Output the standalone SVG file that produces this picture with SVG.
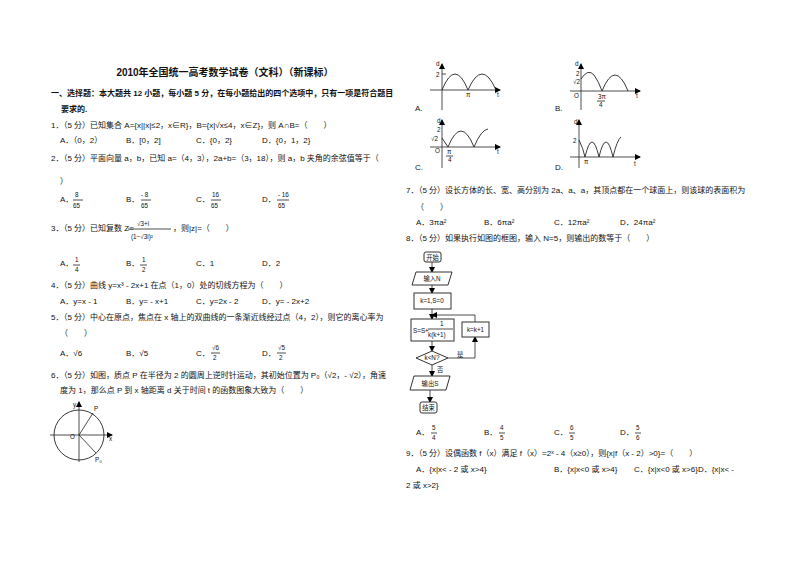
<svg xmlns="http://www.w3.org/2000/svg" width="800" height="565" viewBox="0 0 800 565">
<defs>
<marker id="ar" markerWidth="6" markerHeight="6" refX="5" refY="3" orient="auto" markerUnits="userSpaceOnUse"><path d="M0,0L6,3L0,6z" fill="#000"/></marker>
</defs>
<style>
text{font-family:"Liberation Sans","Noto Sans CJK SC",sans-serif;font-size:8px;fill:#111}
.b{font-weight:bold}
.t{font-size:10px;font-weight:bold}
.s{font-size:6.3px}
.ln{stroke:#222;stroke-width:0.8;fill:none}
.c{stroke:#222;stroke-width:0.9;fill:none}
.bx{stroke:#333;stroke-width:1;fill:#fff}
</style>
<rect width="800" height="565" fill="#fff"/>
<g id="left">
<text x="225" y="76" text-anchor="middle" class="t">2010年全国统一高考数学试卷（文科）（新课标）</text>
<text x="51" y="96" class="b">一、选择题：本大题共 12 小题，每小题 5 分，在每小题给出的四个选项中，只有一项是符合题目</text>
<text x="61" y="112" class="b">要求的.</text>
<text x="51" y="128">1．（5 分）已知集合 A={x||x|≤2，x∈R}，B={x|√x≤4，x∈Z}，则 A∩B=（　　）</text>
<text x="60" y="143">A．（0，2）</text><text x="126" y="143">B．[0，2]</text><text x="196" y="143">C．{0，2}</text><text x="262" y="143">D．{0，1，2}</text>
<text x="51" y="161">2．（5 分）平面向量 a，b，已知 a=（4，3），2a+b=（3，18），则 a，b 夹角的余弦值等于（</text>
<text x="60" y="184">）</text>
<text x="60" y="202">A．</text><text x="75" y="197" class="s">8</text><line x1="73" y1="200" x2="83" y2="200" class="ln"/><text x="73" y="208" class="s">65</text>
<text x="126" y="202">B．</text><text x="141" y="197" class="s">- 8</text><line x1="141" y1="200" x2="151" y2="200" class="ln"/><text x="141" y="208" class="s">65</text>
<text x="196" y="202">C．</text><text x="212" y="197" class="s">16</text><line x1="211" y1="200" x2="221" y2="200" class="ln"/><text x="211" y="208" class="s">65</text>
<text x="262" y="202">D．</text><text x="278" y="197" class="s">- 16</text><line x1="277" y1="200" x2="289" y2="200" class="ln"/><text x="278" y="208" class="s">65</text>
<text x="51" y="231">3．（5 分）已知复数 Z=</text><text x="137" y="226" class="s">√3+i</text><line x1="128" y1="229" x2="171" y2="229" class="ln"/><text x="131" y="239" class="s">(1−√3i)²</text><text x="173" y="231">，则|z|=（　　）</text>
<text x="60" y="266">A．</text><text x="75" y="262" class="s">1</text><line x1="73" y1="265" x2="80" y2="265" class="ln"/><text x="75" y="272" class="s">4</text>
<text x="126" y="266">B．</text><text x="142" y="262" class="s">1</text><line x1="140" y1="265" x2="147" y2="265" class="ln"/><text x="142" y="272" class="s">2</text>
<text x="196" y="266">C．1</text><text x="262" y="266">D．2</text>
<text x="51" y="288">4．（5 分）曲线 y=x³ - 2x+1 在点（1，0）处的切线方程为（　　）</text>
<text x="60" y="304">A．y=x - 1</text><text x="126" y="304">B．y= - x+1</text><text x="196" y="304">C．y=2x - 2</text><text x="262" y="304">D．y= - 2x+2</text>
<text x="51" y="320">5．（5 分）中心在原点，焦点在 x 轴上的双曲线的一条渐近线经过点（4，2），则它的离心率为</text>
<text x="60" y="336">（　　）</text>
<text x="60" y="356">A．√6</text><text x="126" y="356">B．√5</text>
<text x="196" y="356">C．</text><text x="212" y="350" class="s">√6</text><line x1="211" y1="353" x2="220" y2="353" class="ln"/><text x="213" y="360" class="s">2</text>
<text x="262" y="356">D．</text><text x="278" y="350" class="s">√5</text><line x1="277" y1="353" x2="286" y2="353" class="ln"/><text x="279" y="360" class="s">2</text>
<text x="51" y="378">6．（5 分）如图，质点 P 在半径为 2 的圆周上逆时针运动，其初始位置为 P₀（√2，- √2），角速</text>
<text x="60" y="393">度为 1，那么点 P 到 x 轴距离 d 关于时间 t 的函数图象大致为（　　）</text>
</g>
<g id="circle-fig">
<circle cx="79" cy="435" r="25" class="c"/>
<line x1="50" y1="435" x2="112" y2="435" class="ln" marker-end="url(#ar)"/>
<line x1="79" y1="462" x2="79" y2="402" class="ln" marker-end="url(#ar)"/>
<line x1="79" y1="435" x2="93" y2="413" class="ln"/>
<line x1="79" y1="435" x2="96" y2="453" class="ln"/>
<text x="73" y="407" class="s">y</text><text x="94" y="411" class="s">P</text>
<text x="70" y="439" class="s">O</text><text x="109" y="441" class="s">x</text>
<text x="95" y="462" class="s">P₀</text>
</g>
<g id="graphs">
<line x1="442" y1="110" x2="442" y2="64" class="ln" marker-end="url(#ar)"/>
<line x1="430" y1="90" x2="500" y2="90" class="ln" marker-end="url(#ar)"/>
<path d="M442,90 Q455,58 468,90 Q482,58 496,90" class="c"/>
<line x1="442" y1="74" x2="446" y2="74" class="ln"/>
<text x="436" y="66" class="s">d</text><text x="436" y="77" class="s">2</text><text x="466" y="97" class="s">π</text><text x="497" y="97" class="s">t</text><text x="415" y="111">A.</text>
<line x1="581" y1="110" x2="581" y2="64" class="ln" marker-end="url(#ar)"/>
<line x1="570" y1="91" x2="640" y2="91" class="ln" marker-end="url(#ar)"/>
<path d="M581,79 Q588,68 594,75 Q599,82 602,91 Q615,59 628,91" class="c"/>
<text x="575" y="66" class="s">d</text><text x="576" y="76" class="s">2</text><text x="573" y="84" class="s">√2</text><text x="574" y="98" class="s">O</text>
<text x="598" y="99" class="s">3π</text><line x1="597" y1="101" x2="605" y2="101" class="ln"/><text x="599" y="107" class="s">4</text><text x="636" y="98" class="s">t</text><text x="555" y="111">B.</text>
<line x1="442" y1="168" x2="442" y2="120" class="ln" marker-end="url(#ar)"/>
<line x1="430" y1="147" x2="500" y2="147" class="ln" marker-end="url(#ar)"/>
<path d="M442,138 L448,147 Q461,115 474,147 Q481,130 488,129" class="c"/>
<text x="437" y="123" class="s">d</text><text x="437" y="132" class="s">2</text><text x="431" y="141" class="s">√2</text><text x="435" y="153" class="s">O</text>
<text x="447" y="154" class="s">π</text><line x1="446" y1="156" x2="453" y2="156" class="ln"/><text x="448" y="162" class="s">4</text><text x="497" y="154" class="s">t</text><text x="415" y="170">C.</text>
<line x1="579" y1="168" x2="579" y2="120" class="ln" marker-end="url(#ar)"/>
<line x1="570" y1="157" x2="640" y2="157" class="ln" marker-end="url(#ar)"/>
<path d="M579,140 Q583,148 585,157 Q592,127 599,157 Q606,127 613,157 Q617,140 621,137" class="c"/>
<text x="574" y="124" class="s">d</text><text x="573" y="143" class="s">2</text><text x="584" y="164" class="s">π</text><text x="634" y="166" class="s">t</text><text x="555" y="170">D.</text>
</g>
<g id="right">
<text x="406" y="193">7．（5 分）设长方体的长、宽、高分别为 2a、a、a，其顶点都在一个球面上，则该球的表面积为</text>
<text x="416" y="210">（　　）</text>
<text x="416" y="225">A．3πa²</text><text x="484" y="225">B．6πa²</text><text x="554" y="225">C．12πa²</text><text x="620" y="225">D．24πa²</text>
<text x="406" y="241">8．（5 分）如果执行如图的框图，输入 N=5，则输出的数等于（　　）</text>
<text x="416" y="435">A．</text><text x="432" y="430" class="s">5</text><line x1="431" y1="433" x2="437" y2="433" class="ln"/><text x="432" y="440" class="s">4</text>
<text x="484" y="435">B．</text><text x="500" y="430" class="s">4</text><line x1="499" y1="433" x2="505" y2="433" class="ln"/><text x="500" y="440" class="s">5</text>
<text x="554" y="435">C．</text><text x="570" y="430" class="s">6</text><line x1="569" y1="433" x2="575" y2="433" class="ln"/><text x="570" y="440" class="s">5</text>
<text x="620" y="435">D．</text><text x="636" y="430" class="s">5</text><line x1="635" y1="433" x2="641" y2="433" class="ln"/><text x="636" y="440" class="s">6</text>
<text x="406" y="456">9．（5 分）设偶函数 f（x）满足 f（x）=2ˣ - 4（x≥0），则{x|f（x - 2）&gt;0}=（　　）</text>
<text x="416" y="472">A．{x|x&lt; - 2 或 x&gt;4}</text><text x="554" y="472">B．{x|x&lt;0 或 x&gt;4}</text><text x="634" y="472">C．{x|x&lt;0 或 x&gt;6}D．{x|x&lt; -</text>
<text x="406" y="488">2 或 x&gt;2}</text>
</g>
<g id="flowchart">
<g id="connectors">
<line x1="432" y1="262" x2="432" y2="272" class="ln" marker-end="url(#ar)"/>
<line x1="432" y1="285" x2="432" y2="293" class="ln" marker-end="url(#ar)"/>
<line x1="432" y1="309" x2="432" y2="319" class="ln" marker-end="url(#ar)"/>
<line x1="432" y1="341" x2="432" y2="351" class="ln" marker-end="url(#ar)"/>
<line x1="432" y1="365" x2="432" y2="376" class="ln" marker-end="url(#ar)"/>
<line x1="430" y1="390" x2="430" y2="402" class="ln" marker-end="url(#ar)"/>
<polyline points="448,358 475,358 475,337" class="ln" marker-end="url(#ar)"/>
<polyline points="475,322 475,315 432,315" class="ln" marker-end="url(#ar)"/>
</g>
<g id="n-start"><rect x="424" y="252" width="17" height="10" rx="2" class="bx"/><text x="432.5" y="260" text-anchor="middle" class="s">开始</text></g>
<g id="n-input"><polygon points="416,272 452,272 448,285 412,285" class="bx"/><text x="432" y="281" text-anchor="middle" class="s">输入N</text></g>
<g id="n-init"><rect x="414" y="293" width="37" height="16" class="bx"/><text x="432" y="303" text-anchor="middle" class="s">k=1,S=0</text></g>
<g id="n-sum"><rect x="411" y="319" width="43" height="22" class="bx"/><text x="413" y="333" class="s">S=S+</text><text x="440" y="326" class="s">1</text><line x1="428" y1="329" x2="453" y2="329" class="ln"/><text x="428" y="337" class="s">k(k+1)</text></g>
<g id="n-inc"><rect x="462" y="322" width="27" height="15" class="bx"/><text x="475.5" y="332" text-anchor="middle" class="s">k=k+1</text></g>
<g id="n-cond"><polygon points="416,358 432,351 448,358 432,365" class="bx"/><text x="432" y="360" text-anchor="middle" class="s">k&lt;N?</text></g>
<text x="457" y="357" class="s">是</text><text x="437" y="372" class="s">否</text>
<g id="n-output"><polygon points="414,376 450,376 446,390 410,390" class="bx"/><text x="430" y="386" text-anchor="middle" class="s">输出S</text></g>
<g id="n-end"><rect x="420" y="402" width="17" height="11" rx="2" class="bx"/><text x="428.5" y="410" text-anchor="middle" class="s">结束</text></g>
</g>
</svg>
